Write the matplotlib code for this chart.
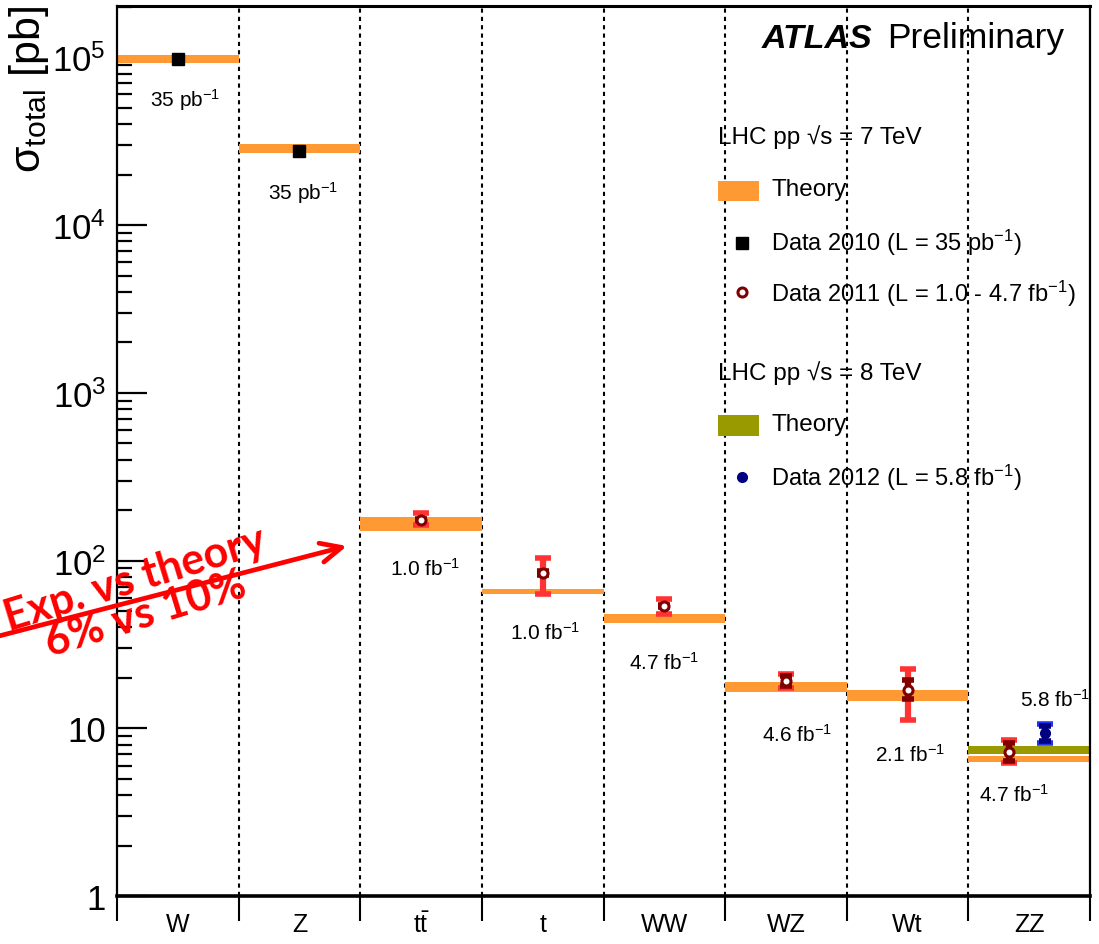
import matplotlib
matplotlib.use("Agg")
import matplotlib.pyplot as plt
import numpy as np
from matplotlib.lines import Line2D
from matplotlib.patches import Rectangle
from matplotlib.ticker import LogLocator, NullFormatter

plt.rcParams["font.family"] = "Liberation Sans"
plt.rcParams["mathtext.fontset"] = "custom"
plt.rcParams["mathtext.rm"] = "Liberation Sans"
plt.rcParams["mathtext.it"] = "Liberation Sans:italic"
plt.rcParams["mathtext.bf"] = "Liberation Sans:bold"

# channels
categories = ["W", "Z", r"$\mathregular{t\bar{t}}$", "t", "WW", "WZ", "Wt", "ZZ"]

# theory bands, sqrt(s) = 7 TeV (low / high edge, pb)
theory7_lo = [9.25e4, 2.69e4, 150.0, 63.3, 42.5, 16.5, 14.6, 6.31]
theory7_hi = [1.03e5, 3.04e4, 182.0, 67.8, 48.1, 18.9, 16.9, 6.86]

# theory band, sqrt(s) = 8 TeV (ZZ only)
theory8_lo = [7.05]
theory8_hi = [7.87]

# data 2010 (35 pb-1)
data2010_idx = [0, 1]
data2010_val = [9.7e4, 2.78e4]

# data 2011 (1.0 - 4.7 fb-1)
data2011_idx = [2, 3, 4, 5, 6, 7]
data2011_val = [175.0, 84.5, 53.7, 19.2, 16.9, 7.24]
data2011_tot_lo = [163.0, 63.3, 48.1, 17.4, 11.2, 6.22]
data2011_tot_hi = [192.0, 104.0, 59.1, 21.1, 22.6, 8.55]
data2011_stat_lo = [174.0, 82.5, 53.0, 17.8, 15.0, 6.41]
data2011_stat_hi = [176.0, 86.5, 54.4, 20.6, 19.5, 8.20]

# data 2012 (5.8 fb-1, ZZ)
data2012_idx = [7]
data2012_val = [9.4]
data2012_tot_lo = [8.2]
data2012_tot_hi = [10.65]
data2012_stat_lo = [8.4]
data2012_stat_hi = [10.4]

lumi_labels = ["35 pb$^{-1}$", "35 pb$^{-1}$", "1.0 fb$^{-1}$", "1.0 fb$^{-1}$",
               "4.7 fb$^{-1}$", "4.6 fb$^{-1}$", "2.1 fb$^{-1}$", "4.7 fb$^{-1}$",
               "5.8 fb$^{-1}$"]
lumi_pos = [(0.56, 5.6e4), (1.53, 1.57e4), (2.53, 91.0), (3.52, 37.6), (4.50, 24.9),
            (5.59, 9.27), (6.52, 7.05), (7.38, 4.08), (7.71, 15.0)]

ORANGE = "#ff9933"
OLIVE = "#999900"
RED = "#ff3333"
MAROON = "#800000"
BLUE = "#2233ee"
NAVY = "#000080"

W, H = 1099, 945


def fx(x):
    return x / W


def fy(y):
    return 1 - y / H


fig = plt.figure(figsize=(W / 100, H / 100), dpi=100)
ax = fig.add_axes([fx(117), fy(897.3), (1090 - 117) / W, (897.3 - 7) / H])
ax.set_yscale("log")
ax.set_xlim(0, 8)
ax.set_ylim(1, 2.02e5)

# category separators
for b in range(1, 8):
    ax.axvline(b, color="k", ls=(0, (2, 2)), lw=1.5, zorder=1)

# theory bands
for i in range(len(categories)):
    ax.fill_between([i, i + 1], theory7_lo[i], theory7_hi[i], color=ORANGE, lw=0, zorder=2)
ax.fill_between([7, 8], theory8_lo[0], theory8_hi[0], color=OLIVE, lw=0, zorder=2)

x2010 = np.array(data2010_idx) + 0.5
x2011 = np.array(data2011_idx) + 0.5
x2011[-1] -= 0.17  # ZZ: 7 TeV point left of centre
x2012 = np.array(data2012_idx) + 0.63

v11 = np.array(data2011_val)
ax.errorbar(x2011, v11, yerr=[v11 - data2011_tot_lo, np.array(data2011_tot_hi) - v11],
            fmt="none", ecolor=RED, elinewidth=4.5, capsize=5.5, capthick=4, zorder=3)
ax.errorbar(x2011, v11, yerr=[v11 - data2011_stat_lo, np.array(data2011_stat_hi) - v11],
            fmt="none", ecolor=MAROON, elinewidth=4.5, capsize=4.5, capthick=4, zorder=4)
ax.plot(x2011, v11, "o", ms=6.5, mfc="white", mec=MAROON, mew=2.2, zorder=5)

v12 = np.array(data2012_val)
ax.errorbar(x2012, v12, yerr=[v12 - data2012_tot_lo, np.array(data2012_tot_hi) - v12],
            fmt="none", ecolor=BLUE, elinewidth=4.5, capsize=5.5, capthick=4, zorder=3)
ax.errorbar(x2012, v12, yerr=[v12 - data2012_stat_lo, np.array(data2012_stat_hi) - v12],
            fmt="none", ecolor=NAVY, elinewidth=4.5, capsize=4.5, capthick=4, zorder=4)
ax.plot(x2012, v12, "o", ms=7, color=NAVY, zorder=5)

ax.plot(x2010, data2010_val, "s", ms=8.5, color="k", zorder=5)

for lab, (x, y) in zip(lumi_labels, lumi_pos):
    ax.text(x, y, lab, ha="center", va="center", fontsize=15, zorder=6)

# axes styling
ax.set_xticks(range(9))
ax.set_xticklabels([])
ax.set_xticks(np.arange(8) + 0.5, minor=True)
ax.set_xticklabels(categories, minor=True, fontsize=18)
ax.tick_params(axis="x", which="major", direction="out", length=18, width=1.5)
ax.tick_params(axis="x", which="minor", length=0, pad=11)

ax.set_yticks([1, 10, 100, 1e3, 1e4, 1e5])
ax.set_yticklabels(["1", "10", "$10^{2}$", "$10^{3}$", "$10^{4}$", "$10^{5}$"], fontsize=25)
ax.yaxis.set_minor_locator(LogLocator(base=10, subs=np.arange(2, 10)))
ax.yaxis.set_minor_formatter(NullFormatter())
ax.tick_params(axis="y", which="major", direction="in", length=21.6, width=1.6, pad=8)
ax.tick_params(axis="y", which="minor", direction="in", length=10.8, width=1.6)

ax.spines["bottom"].set_linewidth(2.6)
ax.spines["top"].set_linewidth(2.2)
ax.spines["left"].set_linewidth(1.6)
ax.spines["right"].set_linewidth(1.6)

fig.text(fx(29), fy(5), "σ$_{\\mathregular{total}}$ [pb]", rotation=90, ha="center", va="top",
         fontsize=31)

# ATLAS label
fig.text(fx(762), fy(48), "ATLAS", fontstyle="italic", fontweight="bold", fontsize=24.5,
         va="baseline")
fig.text(fx(887), fy(48), "Preliminary", fontsize=25.5, va="baseline")

# legend
leg_fs = 17
fig.text(fx(718), fy(137), "LHC pp √s = 7 TeV", va="center", fontsize=leg_fs + 0.5)
fig.add_artist(Rectangle((fx(718), fy(202)), 41 / W, 20 / H, transform=fig.transFigure,
                         color=ORANGE, lw=0))
fig.text(fx(771), fy(190), "Theory", va="center", fontsize=leg_fs + 0.5)
fig.add_artist(Line2D([fx(742)], [fy(244)], marker="s", ms=8, color="k", ls="none",
                      transform=fig.transFigure))
fig.text(fx(771), fy(243), "Data 2010 (L = 35 pb$^{-1}$)", va="center", fontsize=leg_fs)
fig.add_artist(Line2D([fx(742)], [fy(293)], marker="o", ms=6.5, mfc="white", mec=MAROON,
                      mew=2.2, ls="none", transform=fig.transFigure))
fig.text(fx(771), fy(294), "Data 2011 (L = 1.0 - 4.7 fb$^{-1}$)", va="center", fontsize=leg_fs)
fig.text(fx(718), fy(373), "LHC pp √s = 8 TeV", va="center", fontsize=leg_fs + 0.5)
fig.add_artist(Rectangle((fx(718), fy(437)), 41 / W, 21 / H, transform=fig.transFigure,
                         color=OLIVE, lw=0))
fig.text(fx(771), fy(425), "Theory", va="center", fontsize=leg_fs + 0.5)
fig.add_artist(Line2D([fx(742)], [fy(478)], marker="o", ms=7, color=NAVY, ls="none",
                      transform=fig.transFigure))
fig.text(fx(771), fy(478), "Data 2012 (L = 5.8 fb$^{-1}$)", va="center", fontsize=leg_fs)

# precision remark with arrow to the ttbar band
fig.text(fx(140), fy(597), "Exp. vs theory\n6% vs 10%", rotation=17, rotation_mode="anchor",
         ha="center", va="center", multialignment="center", linespacing=0.9,
         color="red", fontweight="bold", family=["Lato", "DejaVu Sans"], fontsize=31)
ax.annotate("", xy=(fx(347), fy(547)), xytext=(fx(-5), fy(638)),
            xycoords="figure fraction", textcoords="figure fraction",
            arrowprops=dict(arrowstyle="->, head_length=1.5, head_width=0.7", color="red",
                            lw=3.4, shrinkA=0, shrinkB=0),
            annotation_clip=False)

fig.savefig("out.png", dpi=100)
